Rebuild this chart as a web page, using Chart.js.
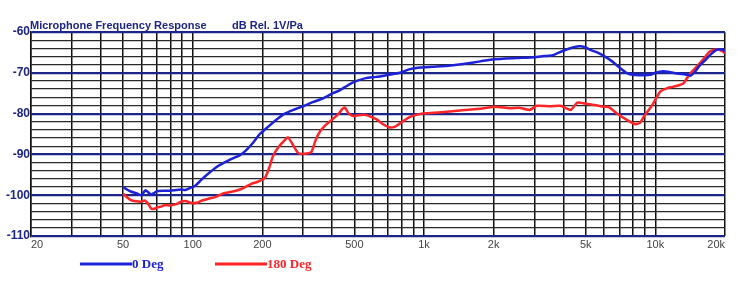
<!DOCTYPE html>
<html lang="en">
<head>
    <meta charset="UTF-8">
    <title>Microphone Frequency Response</title>
    <script src="https://cdn.jsdelivr.net/npm/chart.js"></script>
    <style>
        body { margin: 0; background: #fff; }
        canvas { display: block; }
    </style>
</head>
<body>
    <canvas id="chartCanvas" width="738" height="295"></canvas>

    <script>
        // 0 Deg curve (Hz, dB)
        const freq0 = [50, 52, 54, 57, 60, 62.5, 64, 66, 68, 70, 75, 80, 85, 89, 93, 97, 103, 110, 118, 126,
            135, 149, 160, 170, 182, 195, 210, 230, 250, 275, 300, 330, 365, 404, 432, 470, 512, 560, 620, 700,
            787, 870, 960, 1090, 1300, 1530, 1750, 2000, 2500, 3000, 3300, 3600, 4000, 4400, 4720, 5000, 5240,
            5600, 5960, 6500, 7060, 7500, 8000, 9000, 9500, 10000, 10800, 11500, 12400, 13500, 14200, 14800,
            15500, 16500, 17500, 18500, 19500, 20000];
        const db0 = [-98.0, -98.6, -99.1, -99.5, -100.0, -98.8, -99.2, -99.8, -99.5, -99.0, -98.9, -98.9, -98.7,
            -98.6, -98.7, -98.3, -97.6, -96.0, -94.5, -93.2, -92.2, -91.0, -90.2, -89.0, -87.2, -85.0, -83.4,
            -81.5, -80.0, -79.0, -78.2, -77.2, -76.3, -75.0, -74.3, -73.0, -72.0, -71.3, -71.0, -70.5, -70.0,
            -69.1, -68.7, -68.5, -68.2, -67.7, -67.2, -66.7, -66.4, -66.2, -65.9, -65.7, -64.6, -63.8, -63.5,
            -63.8, -64.4, -65.0, -65.8, -67.2, -68.9, -70.0, -70.5, -70.6, -70.5, -70.0, -69.6, -69.8, -70.2,
            -70.4, -70.7, -69.8, -68.3, -66.8, -65.3, -64.3, -64.3, -64.8];

        // 180 Deg curve (Hz, dB)
        const freq180 = [50, 52, 54, 57, 60, 62, 64, 66, 68, 70, 73, 76, 80, 85, 89, 93, 97, 100, 105, 110,
            118, 126, 135, 149, 160, 170, 180, 191, 205, 215, 222, 235, 250, 258, 270, 285, 295, 310, 326, 340,
            355, 375, 398, 425, 445, 455, 470, 493, 520, 555, 590, 624, 660, 711, 750, 787, 830, 870, 960, 1100,
            1290, 1500, 1750, 2020, 2350, 2600, 2860, 3070, 3500, 3890, 4300, 4600, 5000, 5230, 5950, 6300,
            6800, 7560, 8200, 8600, 8900, 9400, 9800, 10500, 11200, 12000, 13200, 14000, 15100, 16000, 17200,
            18500, 19600, 20000];
        const db180 = [-99.6, -100.5, -101.2, -101.5, -101.6, -101.3, -102.0, -103.2, -103.4, -103.0, -102.8,
            -102.4, -102.5, -102.2, -101.6, -101.4, -101.8, -102.0, -101.8, -101.3, -100.8, -100.4, -99.6, -99.1,
            -98.6, -97.9, -97.2, -96.7, -95.8, -93.0, -90.5, -88.2, -86.5, -85.8, -87.5, -89.6, -89.9, -89.8,
            -89.4, -86.5, -84.4, -82.8, -81.6, -80.2, -78.8, -78.5, -79.8, -80.6, -80.4, -80.3, -80.8, -81.4,
            -82.5, -83.4, -83.2, -82.4, -81.5, -80.8, -80.1, -79.8, -79.5, -79.1, -78.8, -78.3, -78.7, -78.6,
            -79.1, -78.1, -78.2, -78.1, -79.1, -77.3, -77.6, -77.7, -78.3, -78.4, -79.9, -81.6, -82.6, -82.2,
            -80.8, -79.0, -77.5, -74.6, -73.8, -73.4, -72.6, -70.5, -68.5, -66.9, -64.8, -64.2, -64.8, -65.2];

        // grid lines on the frequency axis and the ones that get a label
        const freqGrid = [20, 30, 40, 50, 60, 70, 80, 90, 100, 200, 300, 400, 500, 600, 700, 800, 900,
            1000, 2000, 3000, 4000, 5000, 6000, 7000, 8000, 9000, 10000, 20000];
        const freqLabels = {20: '20', 50: '50', 100: '100', 200: '200', 500: '500', 1000: '1k',
            2000: '2k', 5000: '5k', 10000: '10k', 20000: '20k'};

        // dB grid (every 2 dB), labels on the tens
        const dbGrid = [-110, -108, -106, -104, -102, -100, -98, -96, -94, -92, -90, -88, -86, -84, -82,
            -80, -78, -76, -74, -72, -70, -68, -66, -64, -62, -60];
        const dbLabels = [-110, -100, -90, -80, -70, -60];

        const NAVY = '#1c2588';

        const toPoints = (xs, ys) => xs.map((x, i) => ({ x: x, y: ys[i] }));
        const isMajor = (c) => c.tick && dbLabels.includes(c.tick.value);

        // title line and the hand-placed legend under the chart
        const textPlugin = {
            id: 'textPlugin',
            afterDraw(chart) {
                const ctx = chart.ctx;
                ctx.save();
                ctx.fillStyle = NAVY;
                ctx.font = 'bold 11px "Liberation Sans", Arial, sans-serif';
                ctx.textBaseline = 'alphabetic';
                ctx.fillText('Microphone Frequency Response', 30, 29);
                ctx.fillText('dB Rel. 1V/Pa', 232, 29);

                const spots = [80, 215];
                chart.data.datasets.forEach((ds, i) => {
                    const x = spots[i];
                    ctx.strokeStyle = ds.borderColor;
                    ctx.lineWidth = 3;
                    ctx.beginPath();
                    ctx.moveTo(x, 264);
                    ctx.lineTo(x + 52, 264);
                    ctx.stroke();
                    ctx.fillStyle = ds.borderColor;
                    ctx.font = 'bold 13px "Liberation Serif", "Times New Roman", serif';
                    ctx.fillText(ds.label, x + 52, 268);
                });
                ctx.restore();
            }
        };

        const ctx = document.getElementById('chartCanvas').getContext('2d');
        const chart = new Chart(ctx, {
            type: 'line',
            data: {
                datasets: [
                    {
                        label: '0 Deg',
                        data: toPoints(freq0, db0),
                        borderColor: '#1d22d6',
                        borderWidth: 2.5,
                        pointRadius: 0,
                        tension: 0.2,
                    },
                    {
                        label: '180 Deg',
                        data: toPoints(freq180, db180),
                        borderColor: '#ff2428',
                        borderWidth: 2.5,
                        pointRadius: 0,
                        tension: 0.2,
                    },
                ],
            },
            options: {
                responsive: false,
                animation: false,
                layout: { padding: { top: 32, right: 13, left: 0, bottom: 0 } },
                plugins: {
                    legend: { display: false },
                    tooltip: { enabled: false },
                },
                scales: {
                    x: {
                        type: 'logarithmic',
                        min: 20,
                        max: 20000,
                        afterBuildTicks: (axis) => {
                            axis.ticks = freqGrid.map(v => ({ value: v }));
                        },
                        afterFit: (axis) => { axis.height = 59; },
                        ticks: {
                            autoSkip: false,
                            maxRotation: 0,
                            align: 'inner',
                            padding: 2,
                            color: '#444',
                            font: { family: '"Liberation Sans", Arial, sans-serif', size: 11 },
                            callback: (value) => freqLabels[value] || '',
                        },
                        grid: {
                            color: '#111',
                            lineWidth: 1.5,
                            tickLength: 0,
                        },
                        border: { display: false },
                    },
                    y: {
                        min: -110,
                        max: -60,
                        afterBuildTicks: (axis) => {
                            axis.ticks = dbGrid.map(v => ({ value: v }));
                        },
                        afterFit: (axis) => { axis.width = 31; },
                        ticks: {
                            autoSkip: false,
                            padding: 1,
                            color: NAVY,
                            font: { family: '"Liberation Sans", Arial, sans-serif', size: 12, weight: 'bold' },
                            callback: (value) => (dbLabels.includes(value) ? String(value) : ''),
                        },
                        grid: {
                            color: (c) => (isMajor(c) ? NAVY : '#2a2a2a'),
                            lineWidth: (c) => (isMajor(c) ? 2.2 : 1.3),
                            tickLength: 0,
                        },
                        border: { display: true, color: '#111', width: 1.5 },
                    },
                },
            },
            plugins: [textPlugin],
        });
    </script>
</body>
</html>
